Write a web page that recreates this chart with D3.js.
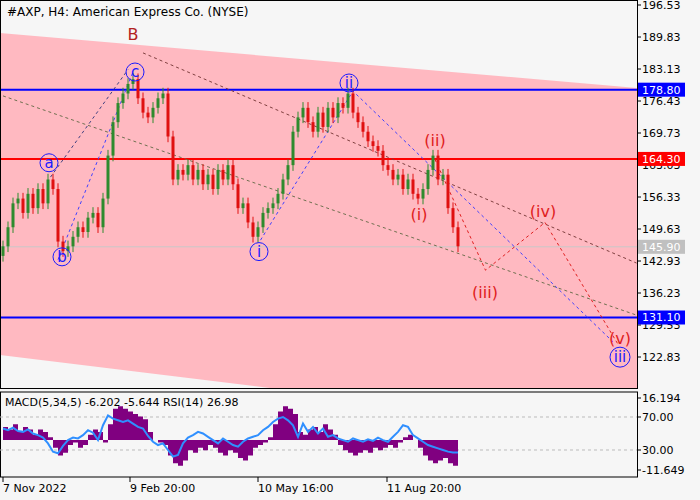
<!DOCTYPE html>
<html>
<head>
<meta charset="UTF-8">
<style>
  body { margin: 0; background: #f6f6f6; }
  svg { display: block; font-family: Tahoma, "DejaVu Sans", sans-serif; }
</style>
</head>
<body>
<svg width="700" height="500"></svg>
<script src="https://d3js.org/d3.v7.min.js"></script>
<script>
// closing prices, one every few bars
const closes = [146,150,155,156,153,157,154,158,155,160,158,147,145,146,148,150,149,152,153,150,
  156,165,172,176,178,180,181,177,174,173,175,177,178,169,160,162,161,163,160,162,
  159,161,158,162,160,163,159,154,155,151,148,150,153,154,155,157,160,163,170,173,
  175,172,170,174,171,175,173,176,175,178,174,172,170,168,167,166,163,162,160,161,
  158,160,157,156,158,162,165,160,161,154,150,146];
const macd = [5,4,6,3,5,4,2,4,3,1,-3,-6,-5,-2,-1,-3,-2,2,4,3,
  -1,6,12,13,12,11,10,9,8,3,0,-1,-2,-6,-9,-10,-8,-4,-5,-3,
  -4,-2,-3,-5,-6,-4,-5,-7,-8,-6,-3,-2,-1,1,6,11,13,12,10,3,
  2,4,5,3,6,4,2,-2,-4,-5,-6,-5,-4,-5,-3,-4,-3,-2,-3,-1,
  1,2,0,-3,-6,-8,-9,-8,-7,-9,-10,-11];
const rsi = [56,54,57,53,52,55,50,48,45,38,28,26,35,42,45,44,48,54,51,42,
  60,72,68,66,64,66,62,58,56,47,40,36,38,30,22,24,38,45,48,52,
  50,46,42,38,44,40,36,34,40,44,46,48,54,58,64,68,70,66,60,46,
  62,52,58,50,56,46,48,44,42,40,44,42,40,43,41,45,42,40,46,52,
  60,58,48,44,40,36,34,32,30,28,27,26.98];
const yTicks = [196.53,189.83,183.13,176.43,169.73,163.03,156.33,149.63,142.93,136.23,129.53,122.83];
const levels = [{v:178.80,c:"#0000ff"},{v:164.30,c:"#ff0000"},{v:131.10,c:"#0000ff"}];
const lastPrice = 145.90;
const dateLabels = [{i:0,t:"7 Nov 2022"},{i:25.4,t:"9 Feb 20:00"},{i:51,t:"10 May 16:00"},{i:76.8,t:"11 Aug 20:00"}];
// wave counts: [bar index, price, label, colour, circled]
const waves = [[26,190.3,"B","#b22222",false],[26.4,182.5,"c","#1a1aff",true],[9.2,163.5,"a","#1a1aff",true],
  [11.8,143.8,"b","#1a1aff",true],[51.2,144.9,"i","#1a1aff",true],[69.2,180.2,"ii","#1a1aff",true],
  [123.4,122.8,"iii","#1a1aff",true],[86.4,168.2,"(ii)","#e02020",false],[83.2,152.6,"(i)","#e02020",false],
  [96.4,136.4,"(iii)","#e02020",false],[108,153.3,"(iv)","#e02020",false],[123.4,126.8,"(v)","#e02020",false]];
// dashed projection paths [bar index, price]
const paths = [
  {c:"#4040ff", pts:[[11,143.2],[26,182.5]]},
  {c:"#404080", pts:[[9.5,160.5],[25,183]]},
  {c:"#4040ff", pts:[[51.5,147.3],[70,178.5],[122,126]]},
  {c:"#804040", pts:[[28,186.5],[126.7,142.5]]},
  {c:"#707050", pts:[[0,177.5],[126.7,131.6]]},
  {c:"#e02020", pts:[[86.4,164.2],[96.5,141],[108.4,151],[123,125.5]]}
];

const svg = d3.select("svg");
const W = 637, mainH = 388, subTop = 392, subBot = 477;
const x = d3.scaleLinear().domain([0, 91]).range([3, 458]);
const y = d3.scaleLinear().domain([122.83, 196.53]).range([357, 5]);

// pink channel
svg.append("polygon").attr("fill", "#ffb9c1")
  .attr("points", `0,33 ${W},88 ${W},${mainH} 270,${mainH} 0,355`);

levels.forEach(l => svg.append("line").attr("x1", 0).attr("x2", W)
  .attr("y1", y(l.v)).attr("y2", y(l.v)).attr("stroke", l.c).attr("stroke-width", 2));
svg.append("line").attr("x1", 0).attr("x2", W).attr("y1", y(lastPrice)).attr("y2", y(lastPrice))
  .attr("stroke", "#c8c8c8").attr("stroke-width", 1);

const line = d3.line().x(d => x(d[0])).y(d => y(d[1]));
paths.forEach(p => svg.append("path").attr("d", line(p.pts)).attr("fill", "none")
  .attr("stroke", p.c).attr("stroke-width", 1).attr("stroke-dasharray", "3,3"));

// candles
closes.forEach((c, i) => {
  const o = i ? closes[i - 1] : c - 2;
  const up = c >= o;
  const col = up ? "#2e8b2e" : "#e01010";
  const hi = Math.max(o, c) + 1.2, lo = Math.min(o, c) - 1.2;
  svg.append("line").attr("x1", x(i)).attr("x2", x(i)).attr("y1", y(hi)).attr("y2", y(lo)).attr("stroke", col);
  svg.append("rect").attr("x", x(i) - 1.5).attr("width", 3)
    .attr("y", y(Math.max(o, c))).attr("height", Math.max(1, Math.abs(y(o) - y(c)))).attr("fill", col);
});

waves.forEach(w => {
  const g = svg.append("g").attr("transform", `translate(${x(w[0])},${y(w[1])})`);
  if (w[4]) g.append("circle").attr("r", w[2].length > 2 ? 10 : 9).attr("fill", "none").attr("stroke", w[3]);
  g.append("text").attr("text-anchor", "middle").attr("dy", "0.35em").attr("fill", w[3])
    .attr("font-size", w[4] ? 15 : 16).text(w[2]);
});

// frames and price axis
svg.append("rect").attr("x", 0.5).attr("y", 0.5).attr("width", W).attr("height", mainH).attr("fill", "none").attr("stroke", "#000");
yTicks.forEach(t => {
  svg.append("line").attr("x1", W).attr("x2", W + 4).attr("y1", y(t)).attr("y2", y(t)).attr("stroke", "#000");
  svg.append("text").attr("x", 642).attr("y", y(t)).attr("dy", "0.35em").attr("font-size", 11).text(t.toFixed(2));
});
const tag = (v, bg, fg) => {
  svg.append("rect").attr("x", 638).attr("y", y(v) - 7).attr("width", 47).attr("height", 14).attr("fill", bg);
  svg.append("text").attr("x", 642).attr("y", y(v)).attr("dy", "0.35em").attr("font-size", 11).attr("fill", fg).text(v.toFixed(2));
};
tag(lastPrice, "#c0c0c0", "#fff");
levels.forEach(l => tag(l.v, l.c, "#fff"));
svg.append("text").attr("x", 7).attr("y", 16).attr("font-size", 12).text("#AXP, H4:  American Express Co. (NYSE)");

// indicator pane
const ym = d3.scaleLinear().domain([-11.649, 16.194]).range([470, 398]);
const yr = d3.scaleLinear().domain([30, 70]).range([450, 417]);
svg.append("rect").attr("x", 0.5).attr("y", subTop).attr("width", W).attr("height", subBot - subTop).attr("fill", "#f6f6f6").attr("stroke", "#000");
[70, 30].forEach(v => svg.append("line").attr("x1", 0).attr("x2", W).attr("y1", yr(v)).attr("y2", yr(v))
  .attr("stroke", "#bbb").attr("stroke-dasharray", "3,3"));
svg.append("path").attr("fill", "#800080")
  .attr("d", d3.area().x((d, i) => x(i)).y0(ym(0)).y1(d => ym(d)).curve(d3.curveStepAfter)(macd));
svg.append("path").attr("fill", "none").attr("stroke", "#2f8fff").attr("stroke-width", 2)
  .attr("d", d3.line().x((d, i) => x(i)).y(d => yr(d))(rsi));
svg.append("text").attr("x", 5).attr("y", 406).attr("font-size", 11).text("MACD(5,34,5) -6.202 -5.644 RSI(14) 26.98");
[[16.194, ym], [70, yr], [30, yr], [-11.649, ym]].forEach(([v, s]) => {
  svg.append("line").attr("x1", W).attr("x2", W + 4).attr("y1", s(v)).attr("y2", s(v)).attr("stroke", "#000");
  svg.append("text").attr("x", 642).attr("y", s(v)).attr("dy", "0.35em").attr("font-size", 11)
    .text(Number.isInteger(v) ? v.toFixed(2) : v.toString());
});
dateLabels.forEach(d => {
  const px = x(d.i);
  svg.append("line").attr("x1", px).attr("x2", px).attr("y1", subBot).attr("y2", subBot + 5).attr("stroke", "#000");
  svg.append("text").attr("x", px).attr("y", 492).attr("font-size", 11).text(d.t);
});
</script>
</body>
</html>
